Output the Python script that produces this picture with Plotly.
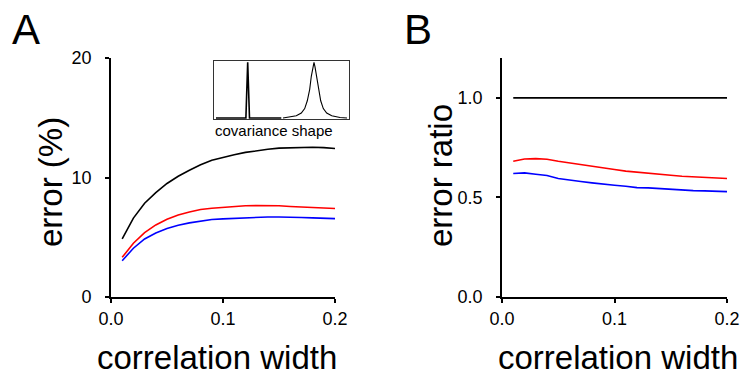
import plotly.graph_objects as go

W, H = 741, 376

# ---- data ----
width = [0.01, 0.02, 0.03, 0.04, 0.05, 0.06, 0.07, 0.08, 0.09, 0.10,
         0.11, 0.12, 0.13, 0.14, 0.15, 0.16, 0.17, 0.18, 0.19, 0.20]
err_black = [4.86, 6.6, 7.85, 8.74, 9.5, 10.1, 10.6, 11.06, 11.45, 11.7,
             11.9, 12.1, 12.26, 12.36, 12.46, 12.5, 12.54, 12.53, 12.5, 12.43]
err_red = [3.32, 4.5, 5.39, 6.03, 6.5, 6.87, 7.12, 7.32, 7.43, 7.51,
           7.57, 7.63, 7.65, 7.65, 7.63, 7.57, 7.54, 7.51, 7.49, 7.40]
err_blue = [3.04, 4.08, 4.86, 5.36, 5.73, 6.0, 6.2, 6.37, 6.48, 6.54,
            6.59, 6.62, 6.68, 6.7, 6.7, 6.65, 6.65, 6.62, 6.59, 6.56]
ratio_black = [1.0] * 20
ratio_red = [0.682, 0.693, 0.695, 0.692, 0.682, 0.673, 0.665, 0.657, 0.647, 0.640,
             0.632, 0.626, 0.621, 0.616, 0.611, 0.606, 0.603, 0.600, 0.598, 0.595]
ratio_blue = [0.620, 0.623, 0.616, 0.610, 0.595, 0.586, 0.580, 0.573, 0.566, 0.561,
              0.556, 0.549, 0.548, 0.544, 0.541, 0.538, 0.534, 0.533, 0.531, 0.529]

# inset covariance shapes (lag in inset units, normalized covariance)
narrow_lag = [1.7, 31.6, 33.4, 35.2, 67.0]
narrow_cov = [0.0, 0.0, 1.0, 0.0, 0.0]
wide_lag = [68.7, 73.7, 82.0, 87.0, 90.4, 93.0, 95.4, 97.0, 98.7, 99.7,
            100.7, 102.4, 104.0, 106.4, 109.0, 112.4, 117.4, 125.7, 132.7]
wide_cov = [0.0, 0.01, 0.04, 0.09, 0.17, 0.31, 0.515, 0.75, 0.92, 1.0,
            0.92, 0.75, 0.515, 0.31, 0.17, 0.09, 0.04, 0.01, 0.0]

xticks = [0.0, 0.1, 0.2]
xticklabels = ["0.0", "0.1", "0.2"]
yticksA = [0, 10, 20]
yticklabelsA = ["0", "10", "20"]
yticksB = [0.0, 0.5, 1.0]
yticklabelsB = ["0.0", "0.5", "1.0"]

FONT = "Liberation Sans, Arial, sans-serif"


def px_x(p):
    return p / W


def px_y(p):
    return 1 - p / H


fig = go.Figure()
lw = 1.6
for y, c in [(err_black, "black"), (err_red, "#ff0000"), (err_blue, "#0000ff")]:
    fig.add_trace(go.Scatter(x=width, y=y, mode="lines", line=dict(color=c, width=lw),
                             xaxis="x", yaxis="y", showlegend=False))
for y, c in [(ratio_black, "black"), (ratio_red, "#ff0000"), (ratio_blue, "#0000ff")]:
    fig.add_trace(go.Scatter(x=width, y=y, mode="lines", line=dict(color=c, width=lw),
                             xaxis="x2", yaxis="y2", showlegend=False))
fig.add_trace(go.Scatter(x=narrow_lag, y=narrow_cov, mode="lines",
                         line=dict(color="black", width=1.6),
                         xaxis="x3", yaxis="y3", showlegend=False))
fig.add_trace(go.Scatter(x=wide_lag, y=wide_cov, mode="lines",
                         line=dict(color="black", width=1.1),
                         xaxis="x3", yaxis="y3", showlegend=False))

ydom = [px_y(297), px_y(58)]
common_axis = dict(showline=True, linecolor="black", linewidth=1.6, ticks="outside",
                   ticklen=4, tickwidth=1.6, tickcolor="black", showgrid=False,
                   zeroline=False, automargin=False,
                   tickfont=dict(family=FONT, size=18, color="black"))

fig.update_layout(
    width=W, height=H, margin=dict(l=0, r=0, t=0, b=0, autoexpand=False),
    paper_bgcolor="white", plot_bgcolor="white",
    font=dict(family=FONT, color="black"),
    xaxis=dict(domain=[px_x(111), px_x(335)], range=[0, 0.2], anchor="y",
               tickvals=xticks, ticktext=xticklabels, ticklabelstandoff=1, **common_axis),
    yaxis=dict(domain=ydom, range=[0, 20], anchor="x",
               tickvals=yticksA, ticktext=yticklabelsA, ticklabelstandoff=10, **common_axis),
    xaxis2=dict(domain=[px_x(502), px_x(727)], range=[0, 0.2], anchor="y2",
                tickvals=xticks, ticktext=xticklabels, ticklabelstandoff=1, **common_axis),
    yaxis2=dict(domain=ydom, range=[0, 1.2], anchor="x2",
                tickvals=yticksB, ticktext=yticklabelsB, ticklabelstandoff=10, **common_axis),
    xaxis3=dict(domain=[px_x(214.3), px_x(348.5)], range=[0, 134.2], anchor="y3",
                showline=True, mirror=True, linecolor="#333", linewidth=1, automargin=False,
                showticklabels=False, ticks="", showgrid=False, zeroline=False),
    yaxis3=dict(domain=[px_y(119.3), px_y(60.7)], range=[-0.023, 1.03], anchor="x3",
                showline=True, mirror=True, linecolor="#333", linewidth=1, automargin=False,
                showticklabels=False, ticks="", showgrid=False, zeroline=False),
)

ann = [
    dict(text="A", x=px_x(26), y=px_y(29), size=42),
    dict(text="B", x=px_x(418), y=px_y(29), size=42),
    dict(text="correlation width", x=px_x(217), y=px_y(357), size=33),
    dict(text="correlation width", x=px_x(618), y=px_y(357), size=33),
    dict(text="error (%)", x=px_x(50), y=px_y(182), size=33, angle=-90),
    dict(text="error ratio", x=px_x(440), y=px_y(176), size=33, angle=-90),
    dict(text="covariance shape", x=px_x(274), y=px_y(131), size=15),
]
for a in ann:
    fig.add_annotation(text=a["text"], x=a["x"], y=a["y"], xref="paper", yref="paper",
                       xanchor="center", yanchor="middle", showarrow=False,
                       textangle=a.get("angle", 0),
                       font=dict(family=FONT, size=a["size"], color="black"))

fig.write_html("out.html")
